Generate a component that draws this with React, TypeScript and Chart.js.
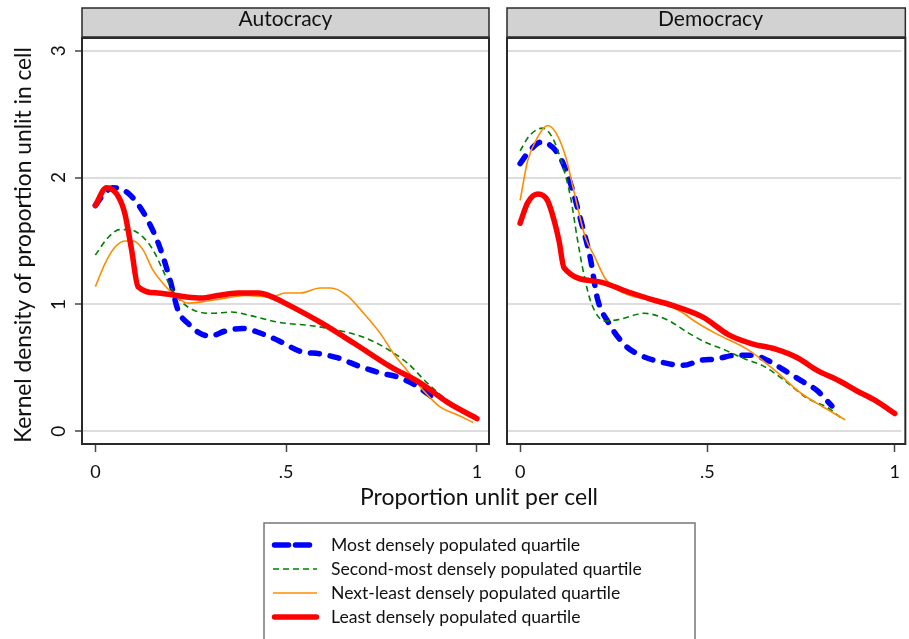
import React, { useEffect, useRef } from "react";
import { Chart, registerables } from "chart.js";

Chart.register(...registerables);

// ---------- text ----------
const panelTitles = ["Autocracy", "Democracy"];
const seriesLabels = [
  "Most densely populated quartile",
  "Second-most densely populated quartile",
  "Next-least densely populated quartile",
  "Least densely populated quartile",
];
const xTickValues = [0, 0.5, 1];
const xTickLabels = ["0", ".5", "1"];
const yTickValues = [0, 1, 2, 3];
const yTickLabels = ["0", "1", "2", "3"];
const xAxisTitle = "Proportion unlit per cell";
const yAxisTitle = "Kernel density of proportion unlit in cell";

// ---------- data: Autocracy ----------
const autoMostX = [0, 0.02, 0.045, 0.075, 0.104, 0.138, 0.169, 0.196, 0.217, 0.243, 0.27, 0.3, 0.34, 0.385, 0.445, 0.49, 0.537, 0.589, 0.634, 0.694, 0.747, 0.79, 0.835, 0.896];
const autoMostY = [1.78, 1.86, 1.92, 1.9, 1.82, 1.66, 1.45, 1.19, 0.95, 0.85, 0.78, 0.75, 0.79, 0.81, 0.76, 0.7, 0.63, 0.61, 0.58, 0.51, 0.46, 0.43, 0.37, 0.24];

const autoSecondX = [0, 0.034, 0.064, 0.09, 0.125, 0.151, 0.177, 0.2, 0.226, 0.261, 0.305, 0.357, 0.41, 0.479, 0.572, 0.66, 0.712, 0.764, 0.817, 0.87, 0.912, 0.96, 1.0];
const autoSecondY = [1.39, 1.53, 1.59, 1.59, 1.53, 1.43, 1.27, 1.12, 1.02, 0.95, 0.93, 0.94, 0.91, 0.86, 0.83, 0.78, 0.73, 0.65, 0.54, 0.38, 0.27, 0.17, 0.09];

const autoNextX = [0, 0.025, 0.051, 0.077, 0.099, 0.125, 0.151, 0.182, 0.213, 0.243, 0.279, 0.34, 0.392, 0.462, 0.497, 0.537, 0.589, 0.616, 0.66, 0.703, 0.747, 0.782, 0.817, 0.86, 0.904, 0.948, 0.99];
const autoNextY = [1.14, 1.32, 1.45, 1.5, 1.5, 1.43, 1.27, 1.15, 1.06, 1.01, 1.02, 1.05, 1.07, 1.06, 1.09, 1.09, 1.13, 1.13, 1.07, 0.93, 0.77, 0.61, 0.48, 0.32, 0.19, 0.13, 0.07];

const autoLeastX = [0, 0.029, 0.056, 0.077, 0.095, 0.112, 0.164, 0.235, 0.279, 0.32, 0.374, 0.427, 0.463, 0.497, 0.589, 0.68, 0.773, 0.852, 0.922, 1.0];
const autoLeastY = [1.78, 1.92, 1.87, 1.72, 1.43, 1.14, 1.09, 1.06, 1.05, 1.07, 1.09, 1.09, 1.06, 1.01, 0.86, 0.69, 0.51, 0.38, 0.23, 0.1];

// ---------- data: Democracy ----------
const demoMostX = [0, 0.025, 0.057, 0.086, 0.112, 0.138, 0.164, 0.187, 0.206, 0.235, 0.283, 0.321, 0.37, 0.435, 0.483, 0.523, 0.575, 0.619, 0.66, 0.706, 0.75, 0.793, 0.832];
const demoMostY = [2.11, 2.21, 2.28, 2.24, 2.13, 1.92, 1.64, 1.37, 1.05, 0.86, 0.67, 0.6, 0.55, 0.52, 0.56, 0.57, 0.6, 0.6, 0.56, 0.48, 0.4, 0.32, 0.2];

const demoSecondX = [0, 0.025, 0.06, 0.087, 0.112, 0.135, 0.152, 0.17, 0.19, 0.226, 0.262, 0.331, 0.392, 0.452, 0.496, 0.54, 0.6, 0.646, 0.706, 0.767, 0.819, 0.855];
const demoSecondY = [2.21, 2.33, 2.39, 2.31, 2.11, 1.84, 1.53, 1.24, 1.01, 0.87, 0.88, 0.93, 0.88, 0.77, 0.7, 0.65, 0.57, 0.52, 0.4, 0.26, 0.19, 0.11];

const demoNextX = [0, 0.02, 0.047, 0.073, 0.096, 0.122, 0.143, 0.174, 0.2, 0.226, 0.252, 0.294, 0.357, 0.425, 0.47, 0.523, 0.61, 0.68, 0.75, 0.81, 0.868];
const demoNextY = [1.82, 2.13, 2.32, 2.41, 2.35, 2.16, 1.9, 1.53, 1.37, 1.21, 1.13, 1.07, 1.03, 0.95, 0.86, 0.77, 0.64, 0.48, 0.3, 0.19, 0.09];

const demoLeastX = [0, 0.02, 0.047, 0.073, 0.091, 0.104, 0.117, 0.209, 0.287, 0.35, 0.409, 0.488, 0.557, 0.619, 0.68, 0.74, 0.793, 0.85, 0.898, 0.95, 1.0];
const demoLeastY = [1.64, 1.8, 1.87, 1.82, 1.66, 1.5, 1.29, 1.18, 1.1, 1.04, 0.99, 0.9, 0.76, 0.69, 0.65, 0.58, 0.48, 0.4, 0.32, 0.24, 0.14];

const panelX = [
  [autoMostX, autoSecondX, autoNextX, autoLeastX],
  [demoMostX, demoSecondX, demoNextX, demoLeastX],
];
const panelY = [
  [autoMostY, autoSecondY, autoNextY, autoLeastY],
  [demoMostY, demoSecondY, demoNextY, demoLeastY],
];

// ---------- styles ----------
const FONT = "Lato, 'Open Sans', sans-serif";
const STYLES = [
  { color: "#0000ff", width: 5.5, dash: [9, 11], legendDash: [14, 7], cap: "round" },
  { color: "#008000", width: 1.6, dash: [6, 4], legendDash: [6, 4], cap: "butt" },
  { color: "#ff8c00", width: 1.6, dash: [] as number[], legendDash: [] as number[], cap: "butt" },
  { color: "#ff0000", width: 5.5, dash: [] as number[], legendDash: [] as number[], cap: "round" },
];

const W = 909;
const H = 639;

function fitSize(ctx: CanvasRenderingContext2D, text: string, target: number) {
  ctx.font = `100px ${FONT}`;
  return (100 * target) / ctx.measureText(text).width;
}

function makeDeco(panel: number) {
  return {
    id: "deco" + panel,
    afterDraw(chart: any) {
      const ctx: CanvasRenderingContext2D = chart.ctx;
      const a = chart.chartArea;
      const yScale = chart.scales.y;
      const right = panel === 1 ? a.right + 4 : a.right;
      ctx.save();
      // header strip
      ctx.fillStyle = "#d2d2d2";
      ctx.fillRect(a.left, 8, right - a.left, 29);
      ctx.strokeStyle = "#2a2a2a";
      ctx.lineWidth = 1.5;
      ctx.strokeRect(a.left, 8, right - a.left, 29);
      // plot box
      ctx.lineWidth = 2;
      ctx.strokeRect(a.left, a.top, right - a.left, a.bottom - a.top);
      // header text
      const title = panelTitles[panel];
      const hs = fitSize(ctx, title, panel === 0 ? 94 : 105);
      ctx.font = `${hs}px ${FONT}`;
      ctx.fillStyle = "#111";
      ctx.textAlign = "center";
      ctx.textBaseline = "alphabetic";
      ctx.fillText(title, a.left + 203.5, 25.5);

      if (panel === 0) {
        // y tick labels (rotated)
        ctx.font = `19px ${FONT}`;
        yTickValues.forEach((v, i) => {
          const py = yScale.getPixelForValue(v);
          ctx.save();
          ctx.translate(65, py);
          ctx.rotate(-Math.PI / 2);
          ctx.fillText(yTickLabels[i], 0, 0);
          ctx.restore();
        });
        // y title
        const ys = fitSize(ctx, yAxisTitle, 396);
        ctx.font = `${ys}px ${FONT}`;
        ctx.save();
        ctx.translate(31, 245);
        ctx.rotate(-Math.PI / 2);
        ctx.fillText(yAxisTitle, 0, 0);
        ctx.restore();
        // x title
        const xs = fitSize(ctx, xAxisTitle, 238);
        ctx.font = `${xs}px ${FONT}`;
        ctx.fillText(xAxisTitle, 479, 505);
        // legend box
        ctx.fillStyle = "#ffffff";
        ctx.fillRect(264, 523, 431, 140);
        ctx.strokeStyle = "#777";
        ctx.lineWidth = 1.5;
        ctx.strokeRect(264, 523, 431, 140);
        const ls = fitSize(ctx, seriesLabels[1], 311);
        seriesLabels.forEach((lab, i) => {
          const st = STYLES[i];
          const y = 545 + 24 * i;
          ctx.save();
          ctx.beginPath();
          ctx.strokeStyle = st.color;
          ctx.lineWidth = st.width;
          ctx.lineCap = st.cap as CanvasLineCap;
          ctx.setLineDash(st.legendDash);
          const x0 = st.cap === "round" ? 274.5 : 273;
          const x1 = st.cap === "round" ? 316.5 : 317;
          ctx.moveTo(x0, y);
          ctx.lineTo(x1, y);
          ctx.stroke();
          ctx.restore();
          ctx.font = `${ls}px ${FONT}`;
          ctx.fillStyle = "#111";
          ctx.textAlign = "left";
          ctx.fillText(lab, 331, y + 6);
        });
      }
      ctx.restore();
    },
  };
}

function makeConfig(panel: number): any {
  const datasets = seriesLabels.map((label, i) => ({
    label,
    data: panelX[panel][i].map((x, j) => ({ x, y: panelY[panel][i][j] })),
    borderColor: STYLES[i].color,
    borderWidth: STYLES[i].width,
    borderDash: STYLES[i].dash,
    borderCapStyle: STYLES[i].cap,
    borderJoinStyle: "round",
    pointRadius: 0,
    fill: false,
    cubicInterpolationMode: "monotone",
    order: 3 - i,
  }));
  const isLeft = panel === 0;
  return {
    type: "line",
    data: { datasets },
    plugins: [makeDeco(panel)],
    options: {
      responsive: false,
      animation: false,
      devicePixelRatio: 1,
      events: [],
      layout: {
        padding: isLeft
          ? { left: 0, top: 38, right: W - 489, bottom: 150 }
          : { left: 495, top: 38, right: 0, bottom: 150 },
      },
      plugins: {
        legend: { display: false },
        tooltip: { enabled: false },
        title: { display: false },
      },
      scales: {
        x: {
          type: "linear",
          min: -0.035,
          max: isLeft ? 1.0315 : 1.0175,
          afterBuildTicks: (s: any) => {
            s.ticks = xTickValues.map((v) => ({ value: v }));
          },
          afterFit: (s: any) => {
            s.height = 45;
          },
          grid: {
            drawOnChartArea: false,
            drawTicks: true,
            tickLength: 8,
            tickColor: "#444",
            tickWidth: 1.5,
          },
          border: { display: false },
          ticks: {
            autoSkip: false,
            maxRotation: 0,
            padding: 9,
            color: "#111",
            font: { family: FONT, size: 18 },
            callback: (v: number) => {
              const k = xTickValues.indexOf(v);
              return k >= 0 ? xTickLabels[k] : "";
            },
          },
        },
        y: {
          type: "linear",
          min: -0.1,
          max: 3.1,
          afterBuildTicks: (s: any) => {
            s.ticks = yTickValues.map((v) => ({ value: v }));
          },
          afterFit: (s: any) => {
            s.width = isLeft ? 82 : 12;
          },
          grid: {
            color: "#dddddd",
            lineWidth: 2,
            drawTicks: isLeft,
            tickLength: 7,
            tickColor: "#444",
            tickWidth: 1.5,
          },
          border: { display: false },
          ticks: { display: false },
        },
      },
    },
  };
}

export default function App() {
  const leftRef = useRef<HTMLCanvasElement>(null);
  const rightRef = useRef<HTMLCanvasElement>(null);

  useEffect(() => {
    const charts: Chart[] = [];
    if (leftRef.current) charts.push(new Chart(leftRef.current, makeConfig(0)));
    if (rightRef.current) charts.push(new Chart(rightRef.current, makeConfig(1)));
    return () => charts.forEach((c) => c.destroy());
  }, []);

  const canvasStyle: React.CSSProperties = {
    position: "absolute",
    left: 0,
    top: 0,
    width: W,
    height: H,
    display: "block",
  };

  return (
    <div
      style={{
        position: "absolute",
        left: 0,
        top: 0,
        width: W,
        height: H,
        overflow: "hidden",
        background: "#ffffff",
      }}
    >
      <canvas ref={leftRef} width={W} height={H} style={canvasStyle} />
      <canvas ref={rightRef} width={W} height={H} style={canvasStyle} />
    </div>
  );
}
